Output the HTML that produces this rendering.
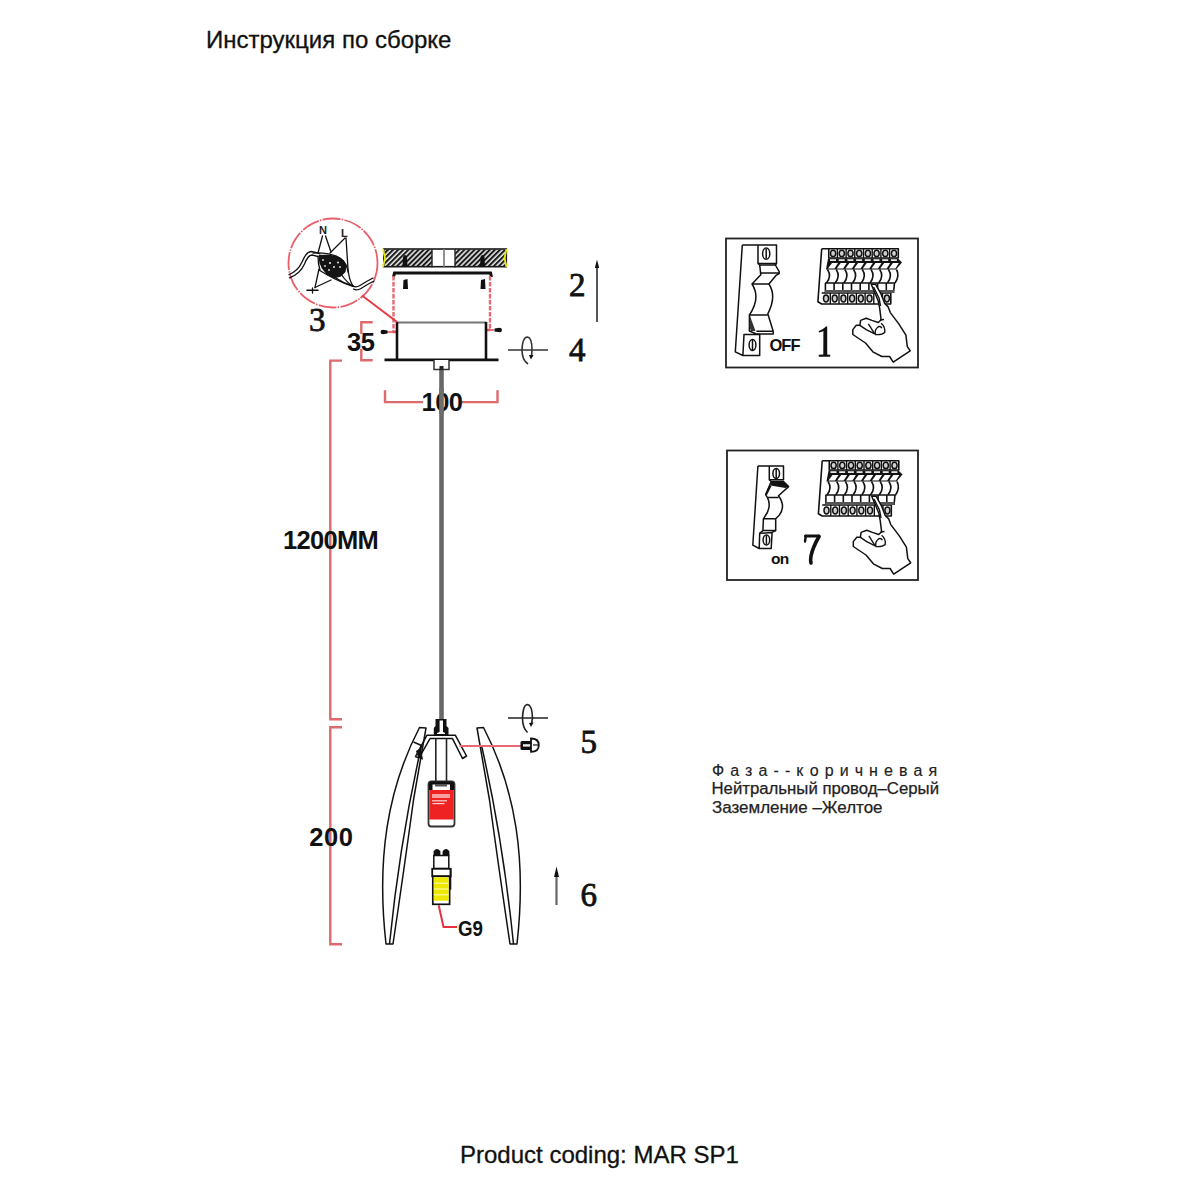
<!DOCTYPE html>
<html>
<head>
<meta charset="utf-8">
<style>
html,body{margin:0;padding:0;background:#fff;}
body{width:1200px;height:1200px;overflow:hidden;position:relative;}
svg{position:absolute;left:0;top:0;}
</style>
</head>
<body>
<svg width="1200" height="1200" viewBox="0 0 1200 1200">
<defs>
<pattern id="hatch" patternUnits="userSpaceOnUse" width="3.6" height="5" patternTransform="rotate(45)">
<rect width="3.6" height="5" fill="#e4e4e4"/>
<rect width="2.0" height="5" fill="#1a1a1a"/>
</pattern>
</defs>
<!-- title -->
<text x="206" y="48" font-family="Liberation Sans, sans-serif" font-size="24" fill="#111" stroke="#111" stroke-width="0.3">Инструкция по сборке</text>
<!-- footer -->
<text x="460" y="1163" font-family="Liberation Sans, sans-serif" font-size="24" fill="#111" stroke="#111" stroke-width="0.3">Product coding: MAR SP1</text>
<!-- right text -->
<g font-family="Liberation Sans, sans-serif" font-size="16" fill="#222">
<text x="712" y="776" letter-spacing="6.1" stroke="#222" stroke-width="0.15">Фаза--коричневая</text>
<text x="711.5" y="794" stroke="#222" stroke-width="0.25" textLength="227.5" lengthAdjust="spacingAndGlyphs">Нейтральный провод–Серый</text>
<text x="712" y="813" stroke="#222" stroke-width="0.25" textLength="170.5" lengthAdjust="spacingAndGlyphs">Заземление –Желтое</text>
</g>

<!-- ===== RED DIMENSIONS ===== -->
<g stroke="#dd6a6d" stroke-width="2.4" fill="none">
<polyline points="372.7,322.3 361.3,322.3 361.3,360.3 372.7,360.3"/>
<polyline points="342,360.6 330.3,360.6 330.3,719.2 342,719.2"/>
<polyline points="342,727.3 330.3,727.3 330.3,944.2 342,944.2"/>
<polyline points="385,390.3 385,402.1 497.5,402.1 497.5,390.3"/>
</g>
<!-- ===== CEILING ===== -->
<rect x="384.5" y="249.5" width="47.5" height="17" fill="url(#hatch)"/>
<rect x="455" y="249.5" width="50.5" height="17" fill="url(#hatch)"/>
<rect x="383.8" y="249" width="122.5" height="17.7" fill="none" stroke="#1a1a1a" stroke-width="1.6"/>
<line x1="432" y1="249" x2="432" y2="267.5" stroke="#222" stroke-width="1.4"/>
<line x1="455" y1="249" x2="455" y2="267.5" stroke="#222" stroke-width="1.4"/>
<line x1="444" y1="249" x2="444" y2="267.5" stroke="#777" stroke-width="1.6"/>
<path d="M383,249 L385,258 L383,267 M506.5,249 L504.5,258 L506.5,267" fill="none" stroke="#e8e800" stroke-width="1.8"/>
<!-- anchors in ceiling -->
<path d="M402.5,267 L403,257 Q405,253 407,257 L407.5,267 Z" fill="#111"/>
<path d="M480,267 L480.5,257 Q482.5,253 484.5,257 L485,267 Z" fill="#111"/>

<!-- mounting plate -->
<path d="M393.5,277 L394.5,273 L490.5,273 L491.5,277" fill="none" stroke="#111" stroke-width="3"/>
<path d="M403,289 L403.5,280 L407.5,279 L408,289 Z" fill="#111"/>
<path d="M480.5,289 L481,280 L485,279 L485.5,289 Z" fill="#111"/>

<!-- red dashed verticals -->
<g stroke="#e56a72" stroke-width="2.4" fill="none" stroke-dasharray="4.5 1.5">
<polyline points="393.5,276 393.5,332 397,332"/>
<polyline points="490,276 490,330 486,330"/>
</g>
<line x1="387" y1="332" x2="397" y2="332" stroke="#e8505a" stroke-width="1.6"/>
<line x1="486" y1="330" x2="494" y2="330" stroke="#e8505a" stroke-width="1.6"/>
<!-- screws at canopy -->
<path d="M380.5,332 Q380.5,329.8 383,329.8 L387.5,330.5 L387.5,333.5 L383,334.2 Q380.5,334.2 380.5,332 Z" fill="#111"/>
<path d="M502,330 Q502,327.8 499.5,327.8 L494.5,328.5 L494.5,331.5 L499.5,332.2 Q502,332.2 502,330 Z" fill="#111"/>

<!-- canopy -->
<line x1="397" y1="322.5" x2="486" y2="322.5" stroke="#777" stroke-width="2.2"/>
<line x1="397" y1="322" x2="397" y2="360" stroke="#111" stroke-width="2.6"/>
<line x1="486" y1="322" x2="486" y2="360" stroke="#111" stroke-width="2.6"/>
<line x1="384.5" y1="359.8" x2="498.5" y2="359.8" stroke="#111" stroke-width="2.8"/>

<!-- circle detail -->
<circle cx="333" cy="263" r="44.5" fill="none" stroke="#e8606a" stroke-width="1.8" stroke-dasharray="18 1.3 1.5 1.3"/>
<line x1="362" y1="295.5" x2="397" y2="322" stroke="#e83a44" stroke-width="2"/>
<g fill="none" stroke="#111" stroke-width="1.3" stroke-linecap="round">
<path d="M289,274.5 Q298,271 302,262 Q306,252 311,251.5 Q316,252 320,254"/>
<path d="M289.5,277.8 Q300,274 304.5,264 Q308,255 312,255 Q315,255.5 319,257"/>
<path d="M353,286 Q356,288 360,285.5 Q367,281 373,278"/>
<path d="M353.5,289 Q357,291 361,288.5 Q368,284 374,281"/>
<line x1="322.5" y1="236" x2="318" y2="253"/>
<line x1="325.5" y1="236" x2="331" y2="252"/>
<line x1="345" y1="238" x2="330" y2="253"/>
<path d="M346,238 L348,269 Q349,280 353,286"/>
<line x1="319" y1="269" x2="315" y2="287.5"/>
<line x1="315" y1="287.5" x2="331" y2="280"/>
<line x1="307" y1="290.3" x2="318" y2="290.3" stroke-width="1.6"/>
<line x1="312.5" y1="288" x2="312.5" y2="293"/>
<path d="M313,253 Q330,252 340,258 Q347,263 348,272"/>
<path d="M319,270 Q327,275 335,279 Q345,284 353,286.5"/>
<path d="M320,263 Q334,281 353,286"/>
<path d="M341,274 Q347,283 353,286"/>
<path d="M318,256 Q318,264 320,270"/>
</g>
<path d="M319,255 L328,254.5 L337,256 L344,260.5 L346.5,266 L345.5,272 L341,276.5 L334,278.5 L327,275 L321.5,268 L319,261 Z" fill="#141414"/>
<g fill="#e8e8e8">
<circle cx="330" cy="263" r="1.1"/><circle cx="338" cy="262.5" r="1"/><circle cx="334" cy="267" r="1"/><circle cx="340" cy="267" r="0.9"/>
<circle cx="325" cy="266" r="0.9"/><circle cx="329" cy="270" r="0.9"/><circle cx="323" cy="260" r="0.9"/>
</g>
<g font-family="Liberation Sans, sans-serif" font-weight="bold" font-size="11" fill="#222">
<text x="319" y="234">N</text>
<text x="341" y="237">L</text>
</g>

<!-- rotation icon 4 -->
<g fill="none" stroke="#333" stroke-width="1.6">
<line x1="508" y1="350" x2="548" y2="350"/>
<path d="M528,364 Q522,360 522,350 Q522.5,337 527.5,337 Q532,337.5 532,350 L531.5,357"/>
</g>
<path d="M529,355 L533.5,355 L531,359.5 Z" fill="#111"/>
<!-- rotation icon 5 -->
<g fill="none" stroke="#222" stroke-width="1.6">
<line x1="508" y1="718" x2="548" y2="718"/>
<path d="M527.5,732.5 Q522.5,728 522.5,718 Q523,704.5 527.5,704.5 Q532,705 532.5,718 L531.5,724"/>
</g>
<path d="M529,723 L533.5,722.5 L531,727 Z" fill="#111"/>

<!-- arrows -->
<line x1="597" y1="266" x2="597" y2="322" stroke="#444" stroke-width="1.8"/>
<path d="M594.8,268 L597,259.5 L599.2,268 Z" fill="#111"/>
<line x1="556.5" y1="873" x2="556.5" y2="905" stroke="#666" stroke-width="2.2"/>
<path d="M554,877 L556.5,866.5 L559,877 Z" fill="#111"/>
<!-- ===== LAMP ===== -->
<!-- cable -->
<line x1="441.5" y1="370" x2="441.5" y2="721" stroke="#686868" stroke-width="4.6"/>
<!-- connector under canopy -->
<path d="M434,360 L434,369.5 L449,369.5 L449,360" fill="#fff" stroke="#333" stroke-width="1.5"/>
<rect x="439.5" y="366" width="4" height="4" fill="#222"/>

<!-- nut -->
<path d="M435.5,719 L446.5,719 L446.5,726 L448.5,728 L448.5,735 L433.8,735 L433.8,728 L435.5,726 Z" fill="#111"/>
<path d="M439.6,720.5 L443,720.5 L443,732 L445,733 L445,734 L437,734 L437,733 L439.6,732 Z" fill="#fff"/>

<!-- bracket -->
<path d="M415.5,756.5 L427,735.2 L455.3,735.2 L466.5,756 L462.5,758.5 L452.5,738.6 L430,738.6 L419,758 Z" fill="#fff" stroke="#111" stroke-width="1.5" stroke-linejoin="round"/>
<!-- rods -->
<line x1="435.8" y1="738.5" x2="435.8" y2="782" stroke="#222" stroke-width="1.6"/>
<line x1="446.5" y1="738.5" x2="446.5" y2="782" stroke="#222" stroke-width="1.6"/>

<!-- red holder -->
<rect x="428.5" y="781.5" width="26" height="45" rx="3" fill="#fff" stroke="#333" stroke-width="1.8"/>
<rect x="429.3" y="790" width="24.4" height="29.5" fill="#ee2222"/>
<path d="M429,790 L429,784 Q429,781.5 432,781.5 L451,781.5 Q454,781.5 454,784 L454,790 L450,790 L450,784.5 L432.5,784.5 L432.5,790 Z" fill="#111"/>
<rect x="435" y="784" width="12" height="2.5" fill="#555"/>
<rect x="432" y="794" width="18" height="4" fill="#f7a0a0"/>
<rect x="432" y="800" width="15" height="1.5" fill="#f7b0b0"/>
<rect x="432.5" y="803" width="12" height="1.2" fill="#fbd0d0"/>

<!-- leaves -->
<g fill="none" stroke="#111" stroke-width="1.5" stroke-linejoin="round">
<path d="M419.5,727.5 L426,728 L413.5,800 Q404,870 393,944 L386,944 C376.5,860 387,790 419.5,727.5 Z"/>
<path d="M421.5,745.5 Q400,840 389.5,944"/>
<line x1="413.5" y1="742" x2="421.5" y2="745.5"/>
<path d="M483.5,727.5 L477,728 L489.5,800 Q499,870 510,944 L517,944 C526.5,860 516,790 483.5,727.5 Z"/>
<path d="M481.5,745.5 Q503,840 513.5,944"/>
</g>
<path d="M416,751 L421,748 L423,760 L418,757 Z" fill="#111"/>

<!-- red leader screw -->
<line x1="459.5" y1="746" x2="521" y2="746" stroke="#e56a72" stroke-width="2.2"/>
<!-- screw -->
<rect x="520.5" y="741" width="11" height="9" rx="1.5" fill="#111"/>
<rect x="523" y="744.2" width="8" height="2.4" fill="#eee"/>
<path d="M531,738.5 Q538.8,738.5 538.8,745 Q538.8,751.8 531,751.8 Z" fill="#fff" stroke="#111" stroke-width="1.8"/>
<line x1="533" y1="745" x2="538" y2="745" stroke="#333" stroke-width="1.4"/>
<!-- G9 bulb -->
<path d="M434.5,855.5 L434.5,851.5 Q437,848.5 439.5,851.5 L439.5,855.5 M443.5,855.5 L443.5,851.5 Q446,848.5 448.5,851.5 L448.5,855.5" fill="#111" stroke="#111" stroke-width="1.8"/>
<rect x="433.8" y="855.5" width="15" height="13" fill="#fff" stroke="#111" stroke-width="1.5"/>
<rect x="432.2" y="868.8" width="18.5" height="7.5" fill="#fff" stroke="#111" stroke-width="1.8"/>
<rect x="432.8" y="876.3" width="16.8" height="28" fill="#fff" stroke="#111" stroke-width="1.7"/>
<rect x="433.8" y="877.3" width="14.8" height="23.4" fill="#ede800"/>
<g stroke="#fbf8a8" stroke-width="1.2">
<line x1="434" y1="883.2" x2="448.5" y2="883.2"/>
<line x1="434" y1="889" x2="448.5" y2="889"/>
<line x1="434" y1="894.8" x2="448.5" y2="894.8"/>
</g>
<line x1="450.5" y1="868.8" x2="450.5" y2="889.6" stroke="#111" stroke-width="1.6"/>
<polyline points="438.7,905.3 443.5,927 457,927" fill="none" stroke="#e83040" stroke-width="2"/>
<!-- dimension text -->
<rect x="423" y="396" width="39" height="12" fill="#fff"/>
<rect x="358" y="334" width="7" height="15" fill="#fff" opacity="0.85"/>
<g font-family="Liberation Sans, sans-serif" font-weight="bold" font-size="25.5" fill="#111" letter-spacing="-0.5">
<text x="347" y="350.6">35</text>
<text x="421.5" y="410.8">100</text>
<text x="283" y="548.7" letter-spacing="-0.7">1200MM</text>
<text x="309.3" y="845.7" letter-spacing="0.5">200</text>
</g>
<line x1="441.5" y1="388" x2="441.5" y2="414" stroke="#6e6e6e" stroke-width="4.6"/>
<text x="458" y="935.5" font-family="Liberation Sans, sans-serif" font-weight="bold" font-size="22.5" fill="#111" textLength="25" lengthAdjust="spacingAndGlyphs">G9</text>
<!-- step numbers -->
<g font-family="Liberation Serif, serif" font-size="33" fill="#111" stroke="#111" stroke-width="0.8">
<text x="309" y="331">3</text>
<text x="569" y="295.5">2</text>
<text x="569" y="361">4</text>
<text x="580.5" y="752.5">5</text>
<text x="580.5" y="905.5">6</text>
</g>
<!-- ===== PANELS ===== -->
<rect x="726" y="238.5" width="192" height="129" fill="none" stroke="#222" stroke-width="1.8"/>
<rect x="727" y="450.5" width="191" height="129.5" fill="none" stroke="#222" stroke-width="1.8"/>

<!-- breaker OFF (panel 1) -->
<g fill="none" stroke="#111" stroke-width="1.5" stroke-linejoin="round">
<path d="M742.3,245 L776.5,245 L776.5,263.5 L775.4,265 L779.2,271.6 L779.2,273.5 L776,275.4 L768.9,284 Q777,296 767.8,313.8 L773.2,331.2 L773.2,334 L756.4,334"/>
<path d="M742.3,245 L735.3,351.8 L742.9,355.5 L759.7,355.5 L759.7,334.4 L744,334.4 L742.9,355.5"/>
<path d="M758,245 L758,263.5 L776.5,263.5"/>
<path d="M758,263.5 L759.7,265 L775.4,265 M760.8,273 L779.2,273 M759.7,265 L760.8,274.8 L752,284 L768.9,284 M752,284 Q761,298 749.4,315 L767.8,315 M749.4,315 L749.4,331 L756.4,334 M756.4,331.2 L773.2,331.2"/>
<ellipse cx="766.2" cy="253.7" rx="3.6" ry="5.6"/>
<ellipse cx="752.5" cy="345" rx="3.4" ry="5.4"/>
<line x1="766.2" y1="249" x2="766.2" y2="258.5"/>
<line x1="752.5" y1="340" x2="752.5" y2="350"/>
</g>
<path d="M750,316 L755.5,331 L751,331 L749.5,327 Z" fill="#333"/>

<!-- breaker ON (panel 2) -->
<g fill="none" stroke="#111" stroke-width="1.5" stroke-linejoin="round">
<path d="M757.9,466 L783.5,466 L783.5,479.7 L769.3,479.7 L769.3,466"/>
<path d="M757.9,466 L752.8,545.2 L759.2,548.5 L771.2,548.5 L772.1,532.4 L759.7,533.3 L759.2,548.5"/>
<path d="M769.3,479.7 L771.2,481.5 L783.5,481.5 L788.6,486.6 L778.5,495.7 Q786,506 779.4,515 L775.7,518.7 L775.7,530.6 L772.1,532.4"/>
<path d="M771.2,481.5 L765.7,494.8 L767.5,497.6 L778.5,497.6 M767.5,497.6 Q772,507 764.7,516.8 L763.4,518.7 L775.7,518.7 M763.4,518.7 L762.9,530.6 L759.7,533.3 M762.9,530.6 L775.7,530.6"/>
<ellipse cx="776.2" cy="473.5" rx="3.3" ry="5"/>
<ellipse cx="766.4" cy="540" rx="3.3" ry="5"/>
<line x1="776.2" y1="469" x2="776.2" y2="478"/>
<line x1="766.4" y1="535.5" x2="766.4" y2="544.5"/>
</g>
<path d="M771.2,481.5 L783.5,481.5 L788.6,486.6 L785.5,488 L770.5,485.5 Z" fill="#111"/>
<line x1="770.5" y1="485.5" x2="766" y2="494.5" stroke="#111" stroke-width="2.2"/>

<!-- breaker bank template -->
<g id="bank1">
<path d="M821.7,248.75 L898.3,248.75 L898.3,258 L828.75,258 L828.75,248.75 M821.7,248.75 L817.9,301.7 L821.7,304 L890.8,304 L890.8,293 L821.7,293" fill="none" stroke="#111" stroke-width="1.6" stroke-linejoin="round"/>
<g fill="none" stroke="#111" stroke-width="1.4">
<line x1="837.4" y1="248.75" x2="837.4" y2="258"/>
<line x1="846.1" y1="248.75" x2="846.1" y2="258"/>
<line x1="854.8" y1="248.75" x2="854.8" y2="258"/>
<line x1="863.5" y1="248.75" x2="863.5" y2="258"/>
<line x1="872.2" y1="248.75" x2="872.2" y2="258"/>
<line x1="880.9" y1="248.75" x2="880.9" y2="258"/>
<line x1="889.6" y1="248.75" x2="889.6" y2="258"/>
</g>
<g fill="#d0d0d0" stroke="#111" stroke-width="1.5">
<ellipse cx="833.1" cy="253.4" rx="2.6" ry="3.2"/><ellipse cx="841.8" cy="253.4" rx="2.6" ry="3.2"/>
<ellipse cx="850.5" cy="253.4" rx="2.6" ry="3.2"/><ellipse cx="859.2" cy="253.4" rx="2.6" ry="3.2"/>
<ellipse cx="867.9" cy="253.4" rx="2.6" ry="3.2"/><ellipse cx="876.6" cy="253.4" rx="2.6" ry="3.2"/>
<ellipse cx="885.3" cy="253.4" rx="2.6" ry="3.2"/><ellipse cx="894" cy="253.4" rx="2.6" ry="3.2"/>
</g>
<!-- toggle row -->
<path d="M828,258.5 L898,258.5 L902,262.5 L896,269.5 L826,269.5 Z" fill="#111"/>
<g fill="#fff">
<rect x="830" y="259.3" width="6" height="1.6"/><rect x="838.7" y="259.3" width="6" height="1.6"/>
<rect x="847.4" y="259.3" width="6" height="1.6"/><rect x="856.1" y="259.3" width="6" height="1.6"/>
<rect x="864.8" y="259.3" width="6" height="1.6"/><rect x="873.5" y="259.3" width="6" height="1.6"/>
<rect x="882.2" y="259.3" width="6" height="1.6"/><rect x="890.9" y="259.3" width="6" height="1.6"/>
<path d="M828,268.5 L832,263 L838,263 L834.5,268.5 Z"/><path d="M836.7,268.5 L840.7,263 L846.7,263 L843.2,268.5 Z"/>
<path d="M845.4,268.5 L849.4,263 L855.4,263 L851.9,268.5 Z"/><path d="M854.1,268.5 L858.1,263 L864.1,263 L860.6,268.5 Z"/>
<path d="M862.8,268.5 L866.8,263 L872.8,263 L869.3,268.5 Z"/><path d="M871.5,268.5 L875.5,263 L881.5,263 L878,268.5 Z"/>
<path d="M880.2,268.5 L884.2,263 L890.2,263 L886.7,268.5 Z"/><path d="M888.9,268.5 L892.9,263 L898.9,263 L895.4,268.5 Z"/>
</g>
<!-- bulge row -->
<g fill="none" stroke="#111" stroke-width="1.6">
<path d="M827.5,269.5 Q832,276 826.5,283"/><path d="M836.2,269.5 Q840.7,276 835.2,283"/>
<path d="M844.9,269.5 Q849.4,276 843.9,283"/><path d="M853.6,269.5 Q858.1,276 852.6,283"/>
<path d="M862.3,269.5 Q866.8,276 861.3,283"/><path d="M871,269.5 Q875.5,276 870,283"/>
<path d="M879.7,269.5 Q884.2,276 878.7,283"/><path d="M888.4,269.5 Q892.9,276 887.4,283"/>
<path d="M896.5,269.5 Q900,276 895,283"/>
<line x1="825" y1="283" x2="895" y2="283"/>
</g>
<!-- small boxes row -->
<g fill="none" stroke="#111" stroke-width="1.6">
<line x1="825.4" y1="283" x2="825.4" y2="293"/><line x1="834.1" y1="283" x2="834.1" y2="293"/>
<line x1="842.8" y1="283" x2="842.8" y2="293"/><line x1="851.5" y1="283" x2="851.5" y2="293"/>
<line x1="860.2" y1="283" x2="860.2" y2="293"/><line x1="868.9" y1="283" x2="868.9" y2="293"/>
<line x1="877.6" y1="283" x2="877.6" y2="293"/><line x1="886.3" y1="283" x2="886.3" y2="293"/>
<line x1="894.5" y1="283" x2="893.5" y2="293"/>
</g>
<rect x="825" y="290" width="69" height="3" fill="#555"/>
<!-- bottom terminals -->
<g fill="none" stroke="#111" stroke-width="1.4">
<line x1="830.3" y1="293" x2="830.3" y2="304"/><line x1="839" y1="293" x2="839" y2="304"/>
<line x1="847.7" y1="293" x2="847.7" y2="304"/><line x1="856.4" y1="293" x2="856.4" y2="304"/>
<line x1="865.1" y1="293" x2="865.1" y2="304"/><line x1="873.8" y1="293" x2="873.8" y2="304"/>
<line x1="882.5" y1="293" x2="882.5" y2="304"/>
</g>
<g fill="#d0d0d0" stroke="#111" stroke-width="1.5">
<ellipse cx="826" cy="298.5" rx="2.5" ry="3.4"/><ellipse cx="834.7" cy="298.5" rx="2.5" ry="3.4"/>
<ellipse cx="843.4" cy="298.5" rx="2.5" ry="3.4"/><ellipse cx="852.1" cy="298.5" rx="2.5" ry="3.4"/>
<ellipse cx="860.8" cy="298.5" rx="2.5" ry="3.4"/><ellipse cx="869.5" cy="298.5" rx="2.5" ry="3.4"/>
<ellipse cx="886.9" cy="298.5" rx="2.5" ry="3.4"/>
</g>
<!-- hand -->
<path d="M871.2,284.2 L875.5,294.2 L878.3,301.2 L879.7,308.3 L881.1,319.7 L878.3,322.5 L871.9,320.4 L866.2,318.2 L860.6,320.4 L859.9,325.3 L856.3,325.3 L852.8,329.6 L852.8,334.5 L865.5,343 L873.3,352.2 L881.8,356.5 L889.6,356.5 L893.2,362.2 L910.2,350.8 L907.3,346.6 L905.9,335.2 L898.8,323.9 L890.3,312.6 L888.2,306.9 L884.7,303.4 L881.1,294.2 L875.5,284.2 Z" fill="#fff" stroke="#111" stroke-width="1.5" stroke-linejoin="round"/>
<g fill="none" stroke="#111" stroke-width="1.4">
<path d="M881.1,323.2 Q885.5,327 884.7,332.4 Q882,335 875.5,334.5 Q874,330 878.3,326.7 Q881,326 881.8,328.2"/>
<path d="M859.9,325.3 L866.2,329.6 L874.7,333.8"/>
<path d="M868.4,323.9 L874.7,333.8"/>
<path d="M873.5,287 L879,298 L880.5,306"/>
<path d="M880,320 L884,319.5"/>
</g>
</g>
<use href="#bank1" transform="translate(0.5,212)"/>

<!-- one -->
<path d="M823.4,330 L826,326.6 L827.2,326.6 L827.2,354.6 L830.2,354.8 Q830.8,356.8 829.5,356.8 L819.3,356.8 Q818.2,356.8 818.8,354.8 L823.3,354.6 Z" fill="#111"/>
<path d="M818.6,331.2 Q822.5,329.8 826.2,326.6 L826.5,329.5 Q822.5,331.8 819,332.6 Z" fill="#111"/>
<!-- seven -->
<g fill="none" stroke="#111" stroke-linecap="round">
<line x1="805.5" y1="536" x2="819" y2="536" stroke-width="3"/>
<line x1="805.8" y1="536" x2="805" y2="541.5" stroke-width="2.4"/>
<path d="M819,536.5 Q812.5,548 811,556 Q810.3,560 811,563" stroke-width="3.6"/>
</g>
<!-- panel labels -->
<g font-family="Liberation Sans, sans-serif" font-weight="bold" fill="#111">
<text x="769.5" y="351.3" font-size="16.5" letter-spacing="-1">OFF</text>
<text x="771" y="563.6" font-size="15.5" letter-spacing="-0.8">on</text>
</g>
<g font-family="Liberation Serif, serif" font-size="42" fill="#111" stroke="#111" stroke-width="0.9">


</g>
</svg>
</body>
</html>
